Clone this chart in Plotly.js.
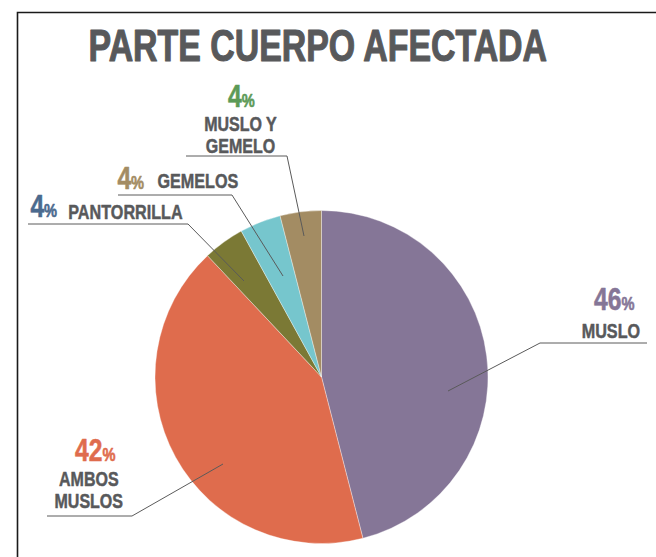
<!DOCTYPE html>
<html>
<head>
<meta charset="utf-8">
<script src="https://cdn.plot.ly/plotly-3.0.1.min.js"></script>
<style>
  html, body { margin: 0; padding: 0; background: #ffffff; }
  #chart { width: 656px; height: 557px; }
</style>
</head>
<body>
<div id="chart"></div>
<script>
// ---- data ----
const labels = ['MUSLO', 'AMBOS MUSLOS', 'PANTORRILLA', 'GEMELOS', 'MUSLO Y GEMELO'];
const values = [46, 42, 4, 4, 4];
const nameText = ['MUSLO', 'AMBOS<br>MUSLOS', 'PANTORRILLA', 'GEMELOS', 'MUSLO Y<br>GEMELO'];
const titleText = 'PARTE CUERPO AFECTADA';

// ---- styling ----
const sliceColors = ['#857697', '#DF6C4D', '#7B7935', '#76C6CD', '#A38C63'];
const pctColors = ['#857697', '#DF6C4D', '#4B6A8E', '#A38C63', '#5C9A57'];
const gray = '#58595B';
const FONT = '"Liberation Sans", Arial, sans-serif';
const NARROW = 0.77; // horizontal condensing of the bold grotesque lettering

const W = 656, H = 557;
const px = x => x / W;
const py = y => 1 - y / H;

// pie placement (pixels)
const cx = 321.5, cy = 377, R = 166.5;

// label layout (pixels): pct [x, y, anchor], name [x, y, anchor, size, linePitch, narrow], leader line
const layoutSpec = [
  { pct: [614, 299, 'center'], name: [611, 330.5, 'center', 21, 0, 0.77], line: [647, 343, 540, 343, 448, 391] },
  { pct: [95, 449.5, 'center'], name: [89, 489.5, 'center', 20, 22.5, 0.8], line: [47, 516, 132, 516, 223, 464] },
  { pct: [30, 206, 'left'], name: [68, 211, 'left', 21, 0, 0.77], line: [28, 224, 188, 224, 244, 281] },
  { pct: [117, 178, 'left'], name: [157, 180, 'left', 21, 0, 0.77], line: [118, 195, 232, 195, 283, 276] },
  { pct: [241, 96.5, 'center'], name: [240, 135, 'center', 20, 22.5, 0.8], line: [186, 156, 287, 156, 304, 236] }
];

const trace = {
  type: 'pie',
  labels: labels,
  values: values,
  sort: false,
  direction: 'clockwise',
  rotation: 0,
  textinfo: 'none',
  hoverinfo: 'label+percent',
  marker: { colors: sliceColors, line: { color: 'rgba(255,255,255,0.6)', width: 0.6 } },
  domain: { x: [px(cx - R), px(cx + R)], y: [py(cy + R), py(cy - R)] },
  showlegend: false
};

const annotations = [];
const meta = [];
const shapes = [];

annotations.push({
  xref: 'paper', yref: 'paper', x: px(318), y: py(45.5), xanchor: 'center', yanchor: 'middle',
  text: '<b>' + titleText + '</b>', showarrow: false, borderpad: 0,
  font: { family: FONT, size: 44, color: gray }
});
meta.push({ anchor: 'center', pitch: 0, stroke: 1.1, color: gray, narrow: NARROW });

values.forEach((v, i) => {
  const s = layoutSpec[i];
  annotations.push({
    xref: 'paper', yref: 'paper', x: px(s.pct[0]), y: py(s.pct[1]), xanchor: 'center', yanchor: 'middle',
    text: '<b>' + v + '<span style="font-size:19px">%</span></b>', showarrow: false, borderpad: 0,
    font: { family: FONT, size: 32, color: pctColors[i] }
  });
  meta.push({ anchor: s.pct[2], pitch: 0, stroke: 0.6, color: pctColors[i], narrow: NARROW });
  annotations.push({
    xref: 'paper', yref: 'paper', x: px(s.name[0]), y: py(s.name[1]), xanchor: 'center', yanchor: 'middle',
    text: '<b>' + nameText[i] + '</b>', showarrow: false, borderpad: 0,
    font: { family: FONT, size: s.name[3], color: gray }
  });
  meta.push({ anchor: s.name[2], pitch: s.name[4], size: s.name[3], stroke: 0.5, color: gray, narrow: s.name[5] });
  const L = s.line;
  shapes.push({
    type: 'path', xref: 'paper', yref: 'paper',
    path: 'M ' + px(L[0]) + ',' + py(L[1]) + ' L ' + px(L[2]) + ',' + py(L[3]) + ' L ' + px(L[4]) + ',' + py(L[5]),
    line: { color: '#5a5a5a', width: 1 }
  });
});

// frame (top and left edges)
shapes.push({
  type: 'path', xref: 'paper', yref: 'paper',
  path: 'M ' + px(17.5) + ',' + py(557) + ' L ' + px(17.5) + ',' + py(12.5) + ' L ' + px(656) + ',' + py(12.5),
  line: { color: '#1a1a1a', width: 1.6 }
});

const layout = {
  width: W, height: H,
  margin: { l: 0, r: 0, t: 0, b: 0 },
  paper_bgcolor: '#ffffff',
  plot_bgcolor: '#ffffff',
  annotations: annotations,
  shapes: shapes,
  font: { family: FONT }
};

Plotly.newPlot('chart', [trace], layout, { displayModeBar: false, staticPlot: true }).then(gd => {
  annotations.forEach((a, i) => {
    const el = gd.querySelector('g.annotation[data-index="' + i + '"] text.annotation-text');
    if (!el) return;
    const m = meta[i];
    const before = el.getBBox();
    // set line spacing of two-line labels
    let ty = 0;
    const lines = el.querySelectorAll('tspan.line');
    if (m.pitch && lines.length > 1) {
      const d0 = parseFloat(lines[0].getAttribute('dy') || '0');
      lines.forEach((ln, k) => {
        if (k > 0) ln.setAttribute('dy', (d0 + k * (m.pitch / m.size)) + 'em');
      });
      const after = el.getBBox();
      ty = (before.y + before.height / 2) - (after.y + after.height / 2);
    }
    const bb = el.getBBox();
    const mid = bb.x + bb.width / 2;
    let tx = 0;
    if (m.anchor === 'left') tx = bb.width * m.narrow / 2;
    el.setAttribute('transform',
      'translate(' + (mid + tx) + ',' + ty + ') scale(' + m.narrow + ',1) translate(' + (-mid) + ',0)');
    el.style.stroke = m.color;
    el.style.strokeWidth = m.stroke + 'px';
    el.style.strokeLinejoin = 'round';
  });
});
</script>
</body>
</html>
